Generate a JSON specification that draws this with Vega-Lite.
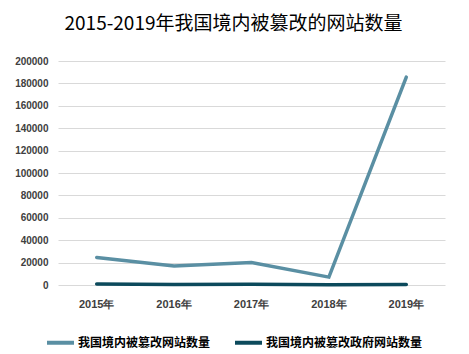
{
  "$schema": "https://vega.github.io/schema/vega-lite/v6.json",
  "width": 387,
  "height": 224,
  "autosize": {"type": "none"},
  "padding": {"left": 58, "top": 61, "right": 24, "bottom": 69},
  "background": "white",
  "title": {
    "text": "2015-2019年我国境内被篡改的网站数量",
    "font": "Noto Sans CJK SC",
    "fontSize": 19,
    "fontWeight": "normal",
    "color": "#000000",
    "anchor": "middle",
    "dx": -18,
    "offset": 22
  },
  "data": {
    "values": [
      {"year": "2015年", "series": "我国境内被篡改网站数量", "value": 24550},
      {"year": "2016年", "series": "我国境内被篡改网站数量", "value": 16970},
      {"year": "2017年", "series": "我国境内被篡改网站数量", "value": 20111},
      {"year": "2018年", "series": "我国境内被篡改网站数量", "value": 7049},
      {"year": "2019年", "series": "我国境内被篡改网站数量", "value": 185573},
      {"year": "2015年", "series": "我国境内被篡改政府网站数量", "value": 898},
      {"year": "2016年", "series": "我国境内被篡改政府网站数量", "value": 467},
      {"year": "2017年", "series": "我国境内被篡改政府网站数量", "value": 618},
      {"year": "2018年", "series": "我国境内被篡改政府网站数量", "value": 332},
      {"year": "2019年", "series": "我国境内被篡改政府网站数量", "value": 515}
    ]
  },
  "mark": {"type": "line", "strokeWidth": 3.5, "strokeCap": "round", "strokeJoin": "miter"},
  "encoding": {
    "x": {
      "field": "year",
      "type": "nominal",
      "scale": {"type": "band", "paddingInner": 0, "paddingOuter": 0},
      "axis": {
        "title": null,
        "labelAngle": 0,
        "labelFont": "Liberation Sans",
        "labelFontWeight": "bold",
        "labelFontSize": 11,
        "labelColor": "#404040",
        "labelPadding": 13,
        "ticks": false,
        "domain": false,
        "grid": false
      }
    },
    "y": {
      "field": "value",
      "type": "quantitative",
      "scale": {"domain": [0, 200000], "nice": false},
      "axis": {
        "title": null,
        "values": [0, 20000, 40000, 60000, 80000, 100000, 120000, 140000, 160000, 180000, 200000],
        "format": "d",
        "labelFont": "Liberation Sans",
        "labelFontWeight": "bold",
        "labelFontSize": 10,
        "labelColor": "#404040",
        "labelPadding": 10,
        "ticks": false,
        "domain": false,
        "gridColor": "#d9d9d9",
        "gridWidth": 1
      }
    },
    "color": {
      "field": "series",
      "type": "nominal",
      "sort": ["我国境内被篡改网站数量", "我国境内被篡改政府网站数量"],
      "scale": {
        "domain": ["我国境内被篡改网站数量", "我国境内被篡改政府网站数量"],
        "range": ["#5a8fa3", "#0c4a5c"]
      },
      "legend": {
        "title": null,
        "orient": "none",
        "legendX": -13,
        "legendY": 266,
        "direction": "horizontal",
        "symbolType": "stroke",
        "symbolStrokeWidth": 4,
        "symbolSize": 729,
        "labelFont": "Noto Sans CJK SC",
        "labelFontWeight": "bold",
        "labelFontSize": 12,
        "labelColor": "#000000",
        "labelOffset": 2,
        "columnPadding": 16
      }
    }
  },
  "config": {"view": {"stroke": null}}
}
